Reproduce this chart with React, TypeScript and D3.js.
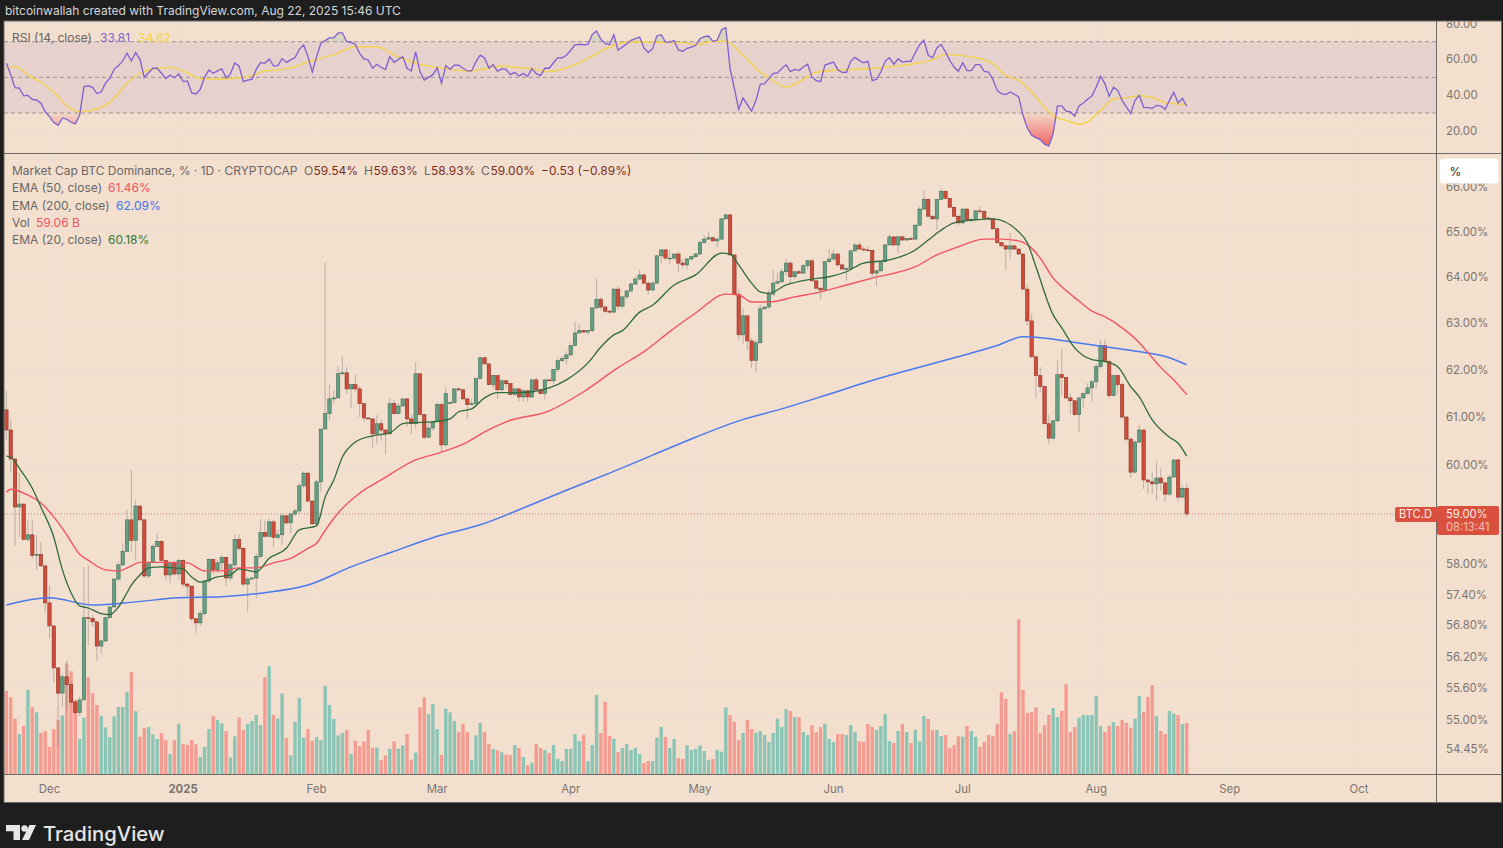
import { useEffect, useRef } from 'react';
import * as d3 from 'd3';

// daily closes of BTC.D in %, first candle is 2024-11-21, ten per row
const closes = [
  60.72, 60.12, 59.14, 59.2, 58.49, 58.58, 58.17, 58.19, 57.96, 57.23,
  56.78, 55.97, 55.49, 55.8, 55.65, 55.32, 55.12, 55.36, 56.94, 56.93,
  56.86, 56.39, 56.49, 56.94, 57.15, 57.7, 57.98, 58.25, 58.88, 58.47,
  59.16, 58.88, 57.76, 58.03, 58.35, 58.45, 58.07, 57.78, 58.03, 57.8,
  58.07, 57.6, 57.56, 56.92, 56.84, 57.02, 57.66, 58.09, 57.88, 58.02,
  58.13, 57.72, 57.98, 58.49, 58.31, 57.6, 57.7, 57.72, 58.15, 58.63,
  58.55, 58.84, 58.53, 58.58, 58.96, 58.82, 59.0, 59.06, 59.57, 59.83,
  59.26, 58.8, 59.65, 60.74, 61.06, 61.37, 61.39, 61.9, 61.92, 61.58,
  61.67, 61.58, 61.27, 60.97, 60.95, 60.64, 60.85, 60.72, 60.64, 61.27,
  61.06, 61.22, 61.37, 60.95, 60.85, 61.9, 61.04, 60.57, 60.76, 60.89,
  61.25, 60.41, 61.48, 61.29, 61.58, 61.56, 61.37, 61.25, 61.27, 61.8,
  62.24, 62.11, 61.67, 61.86, 61.56, 61.75, 61.69, 61.46, 61.58, 61.41,
  61.54, 61.41, 61.77, 61.56, 61.48, 61.77, 61.75, 61.99, 62.18, 62.22,
  62.3, 62.5, 62.77, 62.82, 62.79, 62.82, 63.31, 63.5, 63.33, 63.24,
  63.22, 63.72, 63.35, 63.55, 63.68, 63.83, 63.94, 64.03, 63.85, 63.7,
  63.85, 64.45, 64.58, 64.4, 64.4, 64.49, 64.29, 64.25, 64.38, 64.43,
  64.49, 64.74, 64.82, 64.85, 64.78, 64.82, 65.27, 65.36, 64.47, 63.61,
  62.73, 63.14, 62.6, 62.18, 62.56, 63.29, 63.33, 63.61, 63.85, 63.88,
  64.1, 64.29, 63.99, 64.1, 64.07, 64.23, 64.34, 63.9, 63.74, 63.7,
  64.32, 64.38, 64.49, 64.25, 64.16, 64.17, 64.56, 64.69, 64.6, 64.58,
  64.57, 64.07, 64.12, 64.32, 64.69, 64.87, 64.69, 64.87, 64.8, 64.83,
  64.82, 65.13, 65.49, 65.71, 65.33, 65.27, 65.71, 65.89, 65.73, 65.53,
  65.33, 65.18, 65.49, 65.25, 65.26, 65.45, 65.44, 65.29, 65.27, 65.05,
  64.74, 64.67, 64.6, 64.67, 64.6, 64.49, 63.72, 63.03, 62.26, 61.86,
  61.63, 60.85, 60.55, 60.91, 61.88, 61.82, 61.39, 61.33, 61.04, 61.39,
  61.48, 61.6, 61.73, 62.05, 62.5, 62.16, 61.44, 61.86, 61.67, 60.99,
  60.53, 59.85, 60.47, 60.72, 59.69, 59.65, 59.61, 59.73, 59.63, 59.4,
  59.75, 60.1, 59.34, 59.52, 59.0,
];

// opens follow the previous close, these candles are the ones that gap
const openGaps: Record<number, number> = { 0: 61.14, 103: 61.27 };

// wicks above and below the body, in hundredths of a percentage point
const wickUp = [
  40, 22, 0, 64, 0, 30, 30, 38, 24, 0,
  34, 2, 2, 6, 32, 6, 4, 6, 100, 102,
  6, 2, 2, 2, 2, 0, 6, 16, 20, 102,
  12, 2, 2, 2, 4, 16, 2, 0, 2, 4,
  2, 2, 2, 0, 0, 6, 2, 2, 2, 6,
  4, 0, 4, 10, 10, 2, 4, 2, 6, 26,
  24, 6, 4, 10, 4, 2, 2, 4, 6, 4,
  2, 2, 4, 0, 324, 30, 16, 16, 34, 12,
  0, 22, 6, 2, 0, 0, 18, 10, 0, 12,
  8, 6, 0, 0, 10, 24, 0, 0, 10, 2,
  4, 4, 14, 0, 2, 2, 2, 0, 10, 2,
  2, 2, 0, 2, 0, 4, 2, 0, 2, 2,
  2, 2, 2, 6, 2, 2, 0, 2, 4, 6,
  8, 6, 24, 14, 2, 2, 2, 44, 4, 4,
  4, 2, 6, 2, 2, 4, 6, 12, 2, 4,
  4, 2, 2, 2, 18, 2, 6, 8, 2, 2,
  2, 4, 8, 12, 2, 4, 2, 2, 0, 0,
  10, 16, 0, 6, 6, 10, 2, 10, 28, 20,
  6, 10, 4, 2, 4, 4, 2, 4, 2, 2,
  2, 22, 10, 2, 4, 4, 2, 4, 6, 6,
  8, 2, 2, 2, 2, 6, 2, 2, 2, 2,
  4, 2, 6, 20, 2, 2, 2, 6, 2, 2,
  2, 2, 2, 2, 4, 2, 10, 2, 2, 2,
  2, 2, 2, 28, 2, 2, 0, 12, 16, 2,
  18, 2, 18, 2, 32, 56, 2, 10, 2, 2,
  2, 10, 4, 6, 12, 12, 2, 2, 2, 4,
  2, 4, 4, 10, 0, 0, 20, 34, 20, 2,
  4, 2, 2, 6, 10,
];
const wickDown = [
  20, 28, 78, 60, 2, 4, 6, 30, 2, 20,
  24, 28, 100, 26, 46, 4, 4, 6, 0, 52,
  10, 28, 16, 2, 2, 0, 4, 2, 2, 24,
  40, 2, 4, 4, 2, 2, 2, 10, 16, 4,
  12, 6, 20, 4, 20, 6, 4, 4, 10, 6,
  16, 16, 6, 6, 4, 4, 54, 2, 40, 4,
  2, 2, 20, 4, 20, 4, 20, 4, 6, 4,
  2, 2, 4, 20, 0, 14, 10, 2, 4, 10,
  40, 6, 28, 8, 0, 28, 20, 22, 42, 2,
  0, 2, 2, 16, 22, 10, 2, 4, 2, 6,
  0, 14, 2, 0, 2, 4, 2, 30, 2, 2,
  0, 2, 2, 8, 18, 4, 8, 2, 2, 10,
  10, 10, 2, 2, 2, 12, 0, 6, 6, 4,
  12, 2, 2, 2, 2, 6, 4, 2, 6, 2,
  4, 2, 8, 6, 6, 4, 2, 2, 2, 10,
  2, 2, 16, 6, 14, 4, 20, 8, 10, 4,
  2, 2, 2, 2, 2, 14, 2, 2, 2, 2,
  12, 20, 20, 16, 24, 2, 2, 4, 4, 2,
  2, 8, 16, 6, 2, 2, 8, 2, 2, 20,
  2, 2, 4, 4, 2, 26, 2, 2, 2, 4,
  2, 8, 28, 2, 2, 2, 2, 18, 2, 2,
  2, 2, 2, 2, 2, 2, 24, 2, 2, 2,
  2, 6, 2, 4, 6, 4, 6, 6, 2, 2,
  2, 2, 48, 22, 2, 2, 2, 10, 2, 48,
  12, 2, 12, 2, 2, 38, 2, 28, 2, 36,
  20, 2, 28, 14, 4, 0, 6, 2, 20, 4,
  4, 12, 2, 2, 18, 24, 20, 34, 16, 16,
  4, 2, 8, 2, 6,
];

// volume in billions
const volumes = [
  96.1, 88.8, 64.1, 46.3, 55.6, 97.3, 77.2, 71.4, 47.5, 49.8,
  31.3, 52.1, 62.5, 67.9, 128, 119, 85.7, 40.5, 65.2, 112,
  93.8, 79.9, 67.2, 54, 42.5, 66.8, 77.6, 77.6, 95, 118,
  72.6, 43.2, 53.3, 54.4, 45.9, 40.5, 47.5, 39.4, 23.2, 39,
  58.3, 34.7, 33.6, 39.4, 34.4, 19.7, 31.3, 52.1, 67.2, 62.5,
  58.7, 49.8, 18.9, 43.6, 65.6, 51, 57.9, 61.4, 68.3, 56.7,
  112, 125, 68.3, 64.1, 93.4, 41.7, 21.6, 60.6, 88, 42.1,
  52.1, 38.6, 42.8, 39.4, 102, 79.9, 63.7, 44.8, 47.5, 51,
  23.2, 38.6, 32.4, 37.8, 51, 30.5, 30.5, 16.2, 21.6, 29,
  37.8, 29.3, 33.2, 46.3, 16.6, 24.7, 77.2, 88.8, 69.5, 81.1,
  52.1, 22, 75.7, 71.4, 61.4, 49, 57.9, 48.6, 16.2, 44.8,
  59.1, 48.6, 34.7, 29, 27.4, 25.1, 22.4, 22, 33.6, 30.1,
  19.7, 10.4, 13.1, 34.7, 30.1, 27.8, 24.3, 33.6, 17.4, 15.1,
  29, 29, 46.3, 38.2, 45.2, 15.1, 33.6, 91.5, 47.5, 83.4,
  44, 40.9, 25.5, 30.1, 34.7, 27.8, 30.1, 23.2, 12.7, 15.1,
  15.1, 42.1, 54.4, 42.8, 30.1, 40.5, 18.5, 17.4, 33.2, 27.8,
  29, 33.2, 26.6, 16.2, 17.4, 27.8, 25.9, 77.2, 68.3, 60.2,
  39.4, 47.5, 62.5, 52.1, 47.5, 49.8, 45.2, 37.1, 47.5, 64.1,
  54.4, 75.3, 73, 66, 66, 48.6, 45.2, 56.7, 48.3, 54.4,
  58.3, 40.5, 37.1, 46.3, 46.3, 45.2, 56.7, 48.6, 37.8, 37.1,
  57.9, 54.4, 51, 55.6, 69.5, 38.2, 35.9, 49.8, 57.9, 48.6,
  35.9, 51, 37.8, 67.2, 63.7, 51, 51, 44, 45.2, 30.1,
  33.6, 43.6, 43.2, 55.6, 49.8, 43.2, 31.3, 37.1, 45.2, 44,
  57.9, 94.6, 86.9, 46.3, 49.4, 179, 97.3, 70.6, 71.8, 77.2,
  47.5, 56.7, 68.3, 76.4, 66, 73, 104, 48.6, 54.4, 65.2,
  68.3, 68.3, 68.3, 90.3, 55.6, 48.6, 55.6, 60.2, 55.6, 62.5,
  59.1, 53.7, 64.1, 90.3, 71.8, 89.2, 103, 67.2, 49.8, 46.3,
  73, 69.9, 68.3, 57.9, 59.06,
];

const rsi = [
  57.9, 51.3, 44.2, 43.9, 39.6, 39.9, 37.7, 37.3, 35.5, 30.8,
  28, 24.6, 23.1, 27.2, 26.5, 24.8, 23.9, 28.9, 44.8, 45.2,
  44.4, 40.9, 41.8, 46.7, 49.5, 54.5, 56.6, 59.2, 63.5, 59.2,
  63.9, 60.1, 50, 52.6, 55.1, 55.1, 52.3, 49.3, 51.3, 49.8,
  51.9, 47.6, 48, 41.4, 40.7, 43.3, 50, 54.1, 52.3, 53.6,
  54.7, 49.7, 51.9, 58.1, 56.4, 47.6, 48.5, 48.9, 54.5, 58.4,
  57.9, 60.3, 56.4, 56.6, 60.5, 58.4, 59.8, 61.1, 65.7, 68.2,
  61.6, 53, 61.6, 69.1, 70.6, 72.1, 72.1, 74.9, 74.9, 70,
  69.7, 68.5, 63.5, 60.3, 59.6, 55.1, 57.3, 55.5, 54.5, 61.6,
  58.4, 60.1, 61.6, 55.1, 53.6, 64.4, 53.2, 48.5, 50, 51.5,
  55.3, 46.7, 56.6, 54.5, 56.8, 56.8, 55.1, 53.6, 53.6, 58.8,
  62.4, 60.9, 55.3, 57.1, 53.4, 54.9, 54.5, 51.5, 52.8, 50.8,
  52.1, 50.6, 54.9, 52.1, 51, 55.1, 55.1, 58.2, 60.9, 61,
  62.4, 65.2, 68.2, 68.5, 68.3, 68.5, 74.1, 76, 71.3, 69.1,
  68.3, 73.9, 65.2, 67, 68.9, 70.8, 71.7, 72.6, 66.5, 63.9,
  66.1, 73.2, 73.9, 69.8, 69.8, 70.6, 65.4, 64.6, 66.3, 67,
  68, 71.7, 72.8, 73.2, 70.2, 70.8, 76.6, 77.9, 54.9, 43.7,
  32.1, 38.4, 34.7, 31, 37.1, 46.1, 46.5, 49.3, 52.1, 52.5,
  54.9, 57.1, 53.2, 54.5, 53.8, 55.8, 57.3, 50.2, 48.1, 47.6,
  56.8, 57.7, 58.6, 54.3, 52.8, 52.8, 59, 61.2, 59.4, 58.2,
  59, 48.1, 48.9, 53, 59, 61, 57.3, 60.3, 58.6, 59,
  59, 63.9, 68.3, 70.8, 62.4, 60.9, 66.5, 68.5, 64.2, 59.5,
  55.8, 53.4, 58.2, 53.8, 53.8, 57.1, 57.1, 53.4, 53, 48.9,
  42.7, 40.8, 40.3, 41.8, 40.5, 39, 28.7, 21.6, 17.5, 16.2,
  15.1, 12.5, 11.5, 18.4, 34, 34, 31.1, 30.6, 28.3, 34,
  35.6, 37.7, 39.6, 44.6, 50.6, 46.5, 39.4, 44.4, 42.7, 37.1,
  33.4, 29.7, 37.1, 39.9, 33.2, 33, 32.6, 34.3, 33.8, 32.1,
  37.1, 41.6, 35.6, 38.2, 33.81,
];

// smoothed lines, read at the day offsets next to them (days from 2025-01-01)
const rsiMaDays = [
  -41, -39, -36, -32, -29, -27, -24, -19, -16, -13, -10, -6, -3, 1, 4, 8, 12, 16, 19, 23, 26, 29, 35, 40, 45, 49, 54, 58, 66,
  69, 74, 78, 81, 85, 88, 92, 96, 100, 104, 108, 112, 116, 119, 123, 126, 130, 134, 136, 140, 144, 146, 151, 156, 162, 167,
  171, 174, 177, 180, 184, 188, 191, 194, 198, 201, 203, 205, 208, 210, 213, 216, 219, 222, 225, 228, 232, 233,
];
const rsiMa = [
  55.1, 56, 51.3, 45.7, 39.2, 33.9, 30.8, 33.2, 38.3, 46.7, 52.3, 55.1, 55.6, 52.6, 49.3, 48.9, 49.5, 51, 53.6, 54.5, 56, 58.8, 62.6, 67.2, 67.2, 62.6, 57.9, 56, 53.6,
  54.3, 56.4, 55.3, 54.9, 53.2, 54.5, 58.2, 63.3, 68, 69.8, 69.8, 69.5, 69.5, 68.3, 70.2, 70.2, 62.4, 53, 49.6, 44.6, 48.9, 52.1, 54, 54.5, 55.4, 56.7,
  58.2, 59.9, 62.9, 62.4, 61, 57.7, 51.1, 48.3, 39, 30.6, 27.2, 25.9, 23.7, 25, 31.5, 37.7, 38.6, 39.7, 38.8, 35.8, 34.9, 34.82,
];

const ema20Days = [
  -41, -40, -38, -35, -33, -30, -28, -26, -24, -22, -19, -17, -15, -13, -12, -10, -8, -5, -2, 0, 2, 4, 8, 11, 13, 17, 20, 24, 27, 31, 33, 35, 37, 40, 44, 48, 51, 53, 58, 62, 64, 67, 70,
  73, 77, 81, 85, 89, 94, 97, 100, 102, 106, 109, 114, 119, 125, 127, 129, 132, 134, 136, 140, 146, 150, 154, 158, 164, 170, 173, 176, 179, 184, 188, 194, 196, 198, 202, 204, 207, 211, 214, 217, 220, 222, 225, 229, 231, 233,
];
const ema20 = [
  60.18, 60.16, 59.93, 59.52, 59.14, 58.53, 57.88, 57.43, 57.17, 57.13, 57.02, 57, 57.15, 57.43, 57.58, 57.78, 57.92, 57.94, 57.92, 57.9, 57.74, 57.64, 57.74, 57.78, 57.9, 57.84, 58.11, 58.31, 58.68, 58.76, 59.34, 59.69, 60.16, 60.47, 60.6, 60.66, 60.85, 60.87, 60.89, 60.95, 61.1, 61.16, 61.39,
  61.5, 61.5, 61.52, 61.6, 61.77, 62.13, 62.47, 62.73, 62.82, 63.22, 63.37, 63.81, 64.03, 64.51, 64.49, 64.25, 63.85, 63.66, 63.63, 63.81, 63.94, 63.99, 64.1, 64.29, 64.36, 64.58, 64.8, 65.02, 65.18, 65.25, 65.27, 64.98, 64.74, 64.21, 63.16, 62.88, 62.45, 62.2, 62.16, 62.05, 61.63, 61.41, 60.93, 60.57, 60.45, 60.18,
];

const ema50Days = [
  -41, -40, -36, -33, -30, -27, -24, -22, -18, -15, -12, -10, -4, 1, 5, 9, 13, 17, 21, 25, 29, 31, 33, 36, 41, 46, 54, 60, 66, 70, 75, 85, 93, 101,
  107, 113, 119, 126, 129, 132, 136, 142, 148, 154, 160, 170, 175, 180, 186, 190, 194, 197, 199, 202, 204, 208, 211, 214, 218, 222, 224, 227, 230, 233,
];
const ema50 = [
  59.44, 59.5, 59.38, 59.22, 58.94, 58.58, 58.19, 58.07, 57.88, 57.86, 57.96, 58.03, 58.03, 58.02, 57.86, 57.86, 57.92, 57.92, 58.02, 58.11, 58.31, 58.41, 58.67, 59.02, 59.42, 59.69, 60.1, 60.26, 60.47, 60.68, 60.89, 61.12, 61.52, 62.03,
  62.37, 62.8, 63.2, 63.61, 63.59, 63.44, 63.44, 63.55, 63.66, 63.81, 63.96, 64.21, 64.47, 64.65, 64.82, 64.82, 64.78, 64.62, 64.4, 63.96, 63.77, 63.46, 63.24, 63.12, 62.88, 62.56, 62.35, 62.03, 61.77, 61.46,
];

const ema200Days = [
  -41, -31, -21, -11, -1, 9, 19, 29, 39, 49, 59, 69, 79, 89, 99, 109, 119, 129, 139, 149, 159, 169, 179, 189, 195, 199, 209, 219, 229, 233,
];
const ema200 = [
  57.19, 57.33, 57.19, 57.25, 57.33, 57.35, 57.43, 57.58, 57.94, 58.25, 58.55, 58.78, 59.12, 59.48, 59.83, 60.2, 60.57, 60.91, 61.16, 61.44, 61.73, 61.99, 62.24, 62.5, 62.69, 62.67, 62.54, 62.41, 62.24, 62.09,
];

const priceTicks = [66, 65, 64, 63, 62, 61, 60, 58, 57.4, 56.8, 56.2, 55.6, 55, 54.45];
const rsiTicks = [80, 60, 40, 20];
const rsiBands = [70, 50, 30];
const monthTicks: [number, number, string][] = [
  [2024, 11, 'Dec'], [2025, 0, '2025'], [2025, 1, 'Feb'], [2025, 2, 'Mar'], [2025, 3, 'Apr'], [2025, 4, 'May'],
  [2025, 5, 'Jun'], [2025, 6, 'Jul'], [2025, 7, 'Aug'], [2025, 8, 'Sep'], [2025, 9, 'Oct'],
];

const FONT = 'Inter, "Noto Sans", sans-serif';
const BG = '#f2dfce';
const GRID = '#ebdfd6';
const AXIS_TEXT = '#7b7570';
const LABEL = '#6b6663';
const LINE = '#6e6a67';
const RED_TAG = '#d9503f';

const dayToDate = (d: number) => new Date(Date.UTC(2025, 0, 1 + d));

const App: React.FC = () => {
  const svgRef = useRef<SVGSVGElement>(null);

  useEffect(() => {
    const svg = d3.select(svgRef.current);
    svg.selectAll('*').remove();

    const left = 4;
    const axisX = 1436.5;
    const right = 1501.5;
    const top = 21;
    const split = 153.5;
    const bottom = 774.5;
    const footer = 802.5;

    const x = d3
      .scaleUtc()
      .domain([new Date(Date.UTC(2024, 11, 1)), new Date(Date.UTC(2025, 9, 1))])
      .range([49.5, 1359]);
    const y = d3.scaleLog().domain([55, 65]).range([719, 231]);
    const yRsi = d3.scaleLinear().domain([70, 30]).range([41.7, 113]);
    const yVol = d3.scaleLinear().domain([0, 59.06]).range([bottom - 0.5, 723]);

    const days = closes.map((_, i) => i - 41);
    const opens = closes.map((c, i) => openGaps[i] ?? closes[i - 1]);

    svg.append('rect').attr('width', 1503).attr('height', 848).attr('fill', '#1e1e1e');
    svg
      .append('rect')
      .attr('x', left)
      .attr('y', top)
      .attr('width', right - left)
      .attr('height', footer - top)
      .attr('fill', BG);

    const defs = svg.append('defs');
    defs
      .append('clipPath')
      .attr('id', 'main-clip')
      .append('rect')
      .attr('x', left)
      .attr('y', split)
      .attr('width', axisX - left)
      .attr('height', bottom - split);
    defs
      .append('clipPath')
      .attr('id', 'rsi-low')
      .append('rect')
      .attr('x', left)
      .attr('y', yRsi(30))
      .attr('width', axisX - left)
      .attr('height', split - yRsi(30));
    defs
      .append('clipPath')
      .attr('id', 'rsi-high')
      .append('rect')
      .attr('x', left)
      .attr('y', top)
      .attr('width', axisX - left)
      .attr('height', yRsi(70) - top);
    defs
      .append('clipPath')
      .attr('id', 'axis-clip')
      .append('rect')
      .attr('x', axisX)
      .attr('y', top)
      .attr('width', right - axisX)
      .attr('height', split - top);
    const lowGrad = defs
      .append('linearGradient')
      .attr('id', 'low-fill')
      .attr('gradientUnits', 'userSpaceOnUse')
      .attr('x1', 0)
      .attr('x2', 0)
      .attr('y1', yRsi(30))
      .attr('y2', yRsi(11));
    lowGrad.append('stop').attr('offset', 0).attr('stop-color', '#f05a5a').attr('stop-opacity', 0.05);
    lowGrad.append('stop').attr('offset', 1).attr('stop-color', '#f05a5a').attr('stop-opacity', 0.95);

    // grid
    const grid = svg.append('g').attr('stroke', GRID).attr('stroke-width', 1);
    monthTicks.forEach(([yr, mo]) => {
      const px = Math.round(x(new Date(Date.UTC(yr, mo, 1)))) + 0.5;
      grid.append('line').attr('x1', px).attr('x2', px).attr('y1', top).attr('y2', bottom);
    });
    priceTicks.concat(59).forEach((t) => {
      grid.append('line').attr('x1', left).attr('x2', axisX).attr('y1', y(t)).attr('y2', y(t));
    });

    // rsi panel
    svg
      .append('rect')
      .attr('x', left)
      .attr('y', yRsi(70))
      .attr('width', axisX - left)
      .attr('height', yRsi(30) - yRsi(70))
      .attr('fill', '#7e57c2')
      .attr('opacity', 0.1);
    rsiTicks.forEach((t) => {
      grid
        .append('line')
        .attr('x1', left)
        .attr('x2', axisX)
        .attr('y1', 23 + ((80 - t) * (yRsi(30) - yRsi(70))) / 40)
        .attr('y2', 23 + ((80 - t) * (yRsi(30) - yRsi(70))) / 40);
    });
    rsiBands.forEach((t) => {
      svg
        .append('line')
        .attr('x1', left)
        .attr('x2', axisX)
        .attr('y1', yRsi(t))
        .attr('y2', yRsi(t))
        .attr('stroke', '#a0958f')
        .attr('stroke-width', 1)
        .attr('stroke-dasharray', '4 3');
    });

    const rsiArea = (level: number) =>
      d3
        .area<number>()
        .x((_, i) => x(dayToDate(days[i])))
        .y0(yRsi(level))
        .y1((d) => yRsi(d));
    svg
      .append('path')
      .attr('d', rsiArea(30)(rsi))
      .attr('clip-path', 'url(#rsi-low)')
      .attr('fill', 'url(#low-fill)');
    svg
      .append('path')
      .attr('d', rsiArea(70)(rsi))
      .attr('clip-path', 'url(#rsi-high)')
      .attr('fill', '#7fb58f')
      .attr('opacity', 0.22);

    const dayLine = (scale: (v: number) => number, ds: number[]) =>
      d3
        .line<number>()
        .x((_, i) => x(dayToDate(ds[i])))
        .y((d) => scale(d));

    svg
      .append('path')
      .attr('d', dayLine(yRsi, rsiMaDays).curve(d3.curveMonotoneX)(rsiMa))
      .attr('fill', 'none')
      .attr('stroke', '#f5d24a')
      .attr('stroke-width', 1.4);
    svg
      .append('path')
      .attr('d', dayLine(yRsi, days)(rsi))
      .attr('fill', 'none')
      .attr('stroke', '#7f5fd0')
      .attr('stroke-width', 1.3);

    // main panel
    const main = svg.append('g').attr('clip-path', 'url(#main-clip)');

    main
      .append('line')
      .attr('x1', left)
      .attr('x2', 1395)
      .attr('y1', y(59))
      .attr('y2', y(59))
      .attr('stroke', RED_TAG)
      .attr('stroke-opacity', 0.7)
      .attr('stroke-dasharray', '1 2');

    main
      .append('g')
      .selectAll('rect')
      .data(volumes)
      .join('rect')
      .attr('x', (_, i) => x(dayToDate(days[i])) - 1.7)
      .attr('width', 3.4)
      .attr('y', (d) => yVol(d))
      .attr('height', (d) => yVol(0) - yVol(d))
      .attr('fill', (_, i) => (closes[i] >= opens[i] ? '#8cc5b6' : '#f49c91'));

    const candles = main.append('g');
    candles
      .selectAll('line')
      .data(closes)
      .join('line')
      .attr('x1', (_, i) => x(dayToDate(days[i])))
      .attr('x2', (_, i) => x(dayToDate(days[i])))
      .attr('y1', (c, i) => y(Math.max(c, opens[i]) + wickUp[i] / 100))
      .attr('y2', (c, i) => y(Math.min(c, opens[i]) - wickDown[i] / 100))
      .attr('stroke', '#9a918a')
      .attr('stroke-opacity', 0.7)
      .attr('stroke-width', 0.9);
    candles
      .selectAll('rect')
      .data(closes)
      .join('rect')
      .attr('x', (_, i) => x(dayToDate(days[i])) - 1.7)
      .attr('width', 3.4)
      .attr('y', (c, i) => y(Math.max(c, opens[i])))
      .attr('height', (c, i) => Math.max(0.8, y(Math.min(c, opens[i])) - y(Math.max(c, opens[i]))))
      .attr('fill', (c, i) => (c >= opens[i] ? '#669f85' : '#cf4d3b'))
      .attr('stroke', (c, i) => (c >= opens[i] ? '#3a6a50' : '#8a2e22'))
      .attr('stroke-width', 0.55);

    const emaLines: [number[], number[], string, number][] = [
      [ema200Days, ema200, '#4a78ef', 1.5],
      [ema50Days, ema50, '#f2545f', 1.4],
      [ema20Days, ema20, '#2f6b3a', 1.3],
    ];
    emaLines.forEach(([ds, vals, color, w]) => {
      main
        .append('path')
        .attr('d', dayLine(y, ds).curve(d3.curveMonotoneX)(vals))
        .attr('fill', 'none')
        .attr('stroke', color)
        .attr('stroke-width', w);
    });

    // frame
    const frame = svg.append('g').attr('stroke', LINE).attr('stroke-width', 1);
    [
      [left, top, right, top],
      [left, split, right, split],
      [left, bottom, right, bottom],
      [left, footer, right, footer],
      [left, top, left, footer],
      [axisX, top, axisX, footer],
      [right, top, right, footer],
    ].forEach(([x1, y1, x2, y2]) => {
      frame.append('line').attr('x1', x1).attr('y1', y1).attr('x2', x2).attr('y2', y2);
    });

    const text = (
      px: number,
      py: number,
      s: string,
      fill: string,
      size = 12,
      anchor = 'start',
      weight = 400,
    ) =>
      svg
        .append('text')
        .attr('x', px)
        .attr('y', py)
        .attr('dy', '0.4em')
        .attr('fill', fill)
        .attr('font-family', FONT)
        .attr('font-size', size)
        .attr('font-weight', weight)
        .attr('text-anchor', anchor)
        .text(s);

    // axis labels
    priceTicks.forEach((t) => {
      text(1446, y(t), `${t.toFixed(2)}%`, AXIS_TEXT, 11.4);
    });
    rsiTicks.forEach((t) => {
      text(1446, 23 + ((80 - t) * (yRsi(30) - yRsi(70))) / 40, t.toFixed(2), AXIS_TEXT, 11.4).attr(
        'clip-path',
        'url(#axis-clip)',
      );
    });
    monthTicks.forEach(([yr, mo, label]) => {
      text(
        x(new Date(Date.UTC(yr, mo, 1))),
        788,
        label,
        AXIS_TEXT,
        11.4,
        'middle',
        label === '2025' ? 700 : 400,
      );
    });

    // currency box sits over the clipped top tick
    svg
      .append('rect')
      .attr('x', 1440)
      .attr('y', 158.5)
      .attr('width', 58.5)
      .attr('height', 25)
      .attr('rx', 3.5)
      .attr('fill', '#ffffff');
    text(1449.5, 171, '%', '#2a2a2a', 12);

    // last price tags
    svg
      .append('rect')
      .attr('x', 1395)
      .attr('y', 507)
      .attr('width', 42)
      .attr('height', 15)
      .attr('rx', 2)
      .attr('fill', RED_TAG);
    svg
      .append('rect')
      .attr('x', 1437)
      .attr('y', 506)
      .attr('width', 62)
      .attr('height', 29)
      .attr('rx', 2)
      .attr('fill', RED_TAG);
    text(1399, 514, 'BTC.D', '#fbeee8', 11.2);
    text(1446, 514, '59.00%', '#fbeee8', 11.2);
    text(1446, 527, '08:13:41', '#f5c0b4', 11.2);

    // legends
    text(5, 10, 'bitcoinwallah created with TradingView.com, Aug 22, 2025 15:46 UTC', '#d6d6d6', 12);
    text(12, 37, 'RSI (14, close)', LABEL);
    text(100, 37, '33.81', '#7f5fd0');
    text(138, 37, '34.82', '#f5d24a');

    text(12, 170, 'Market Cap BTC Dominance, % · 1D · CRYPTOCAP', LABEL);
    const ohlc: [number, string, string][] = [
      [304, 'O', '59.54%'],
      [364, 'H', '59.63%'],
      [424, 'L', '58.93%'],
      [481, 'C', '59.00%'],
    ];
    ohlc.forEach(([px, k, v]) => {
      text(px, 170, k, LABEL);
      text(px + (k === 'L' ? 7 : 9.5), 170, v, '#7a2e25');
    });
    text(541, 170, '−0.53 (−0.89%)', '#7a2e25');

    text(12, 187.5, 'EMA (50, close)', LABEL);
    text(108, 187.5, '61.46%', '#f2545f');
    text(12, 205, 'EMA (200, close)', LABEL);
    text(116, 205, '62.09%', '#3f73f0');
    text(12, 222, 'Vol', LABEL);
    text(36, 222, '59.06 B', '#f2545f');
    text(12, 239.5, 'EMA (20, close)', LABEL);
    text(108, 239.5, '60.18%', '#2f7a3a');

    // footer logo
    const logo = svg.append('g').attr('fill', '#e6e6e6');
    logo.append('path').attr('d', 'M6 825h14v15h-6.5v-8.8H6z');
    logo.append('circle').attr('cx', 24.5).attr('cy', 828.5).attr('r', 3.2);
    logo.append('path').attr('d', 'M29.5 825h6.5l-7 15h-7z');
    text(43, 833, 'TradingView', '#e6e6e6', 20.3, 'start', 500);
  }, []);

  return (
    <svg
      ref={svgRef}
      width={1503}
      height={848}
      style={{ position: 'fixed', top: 0, left: 0, display: 'block' }}
    />
  );
};

export default App;
